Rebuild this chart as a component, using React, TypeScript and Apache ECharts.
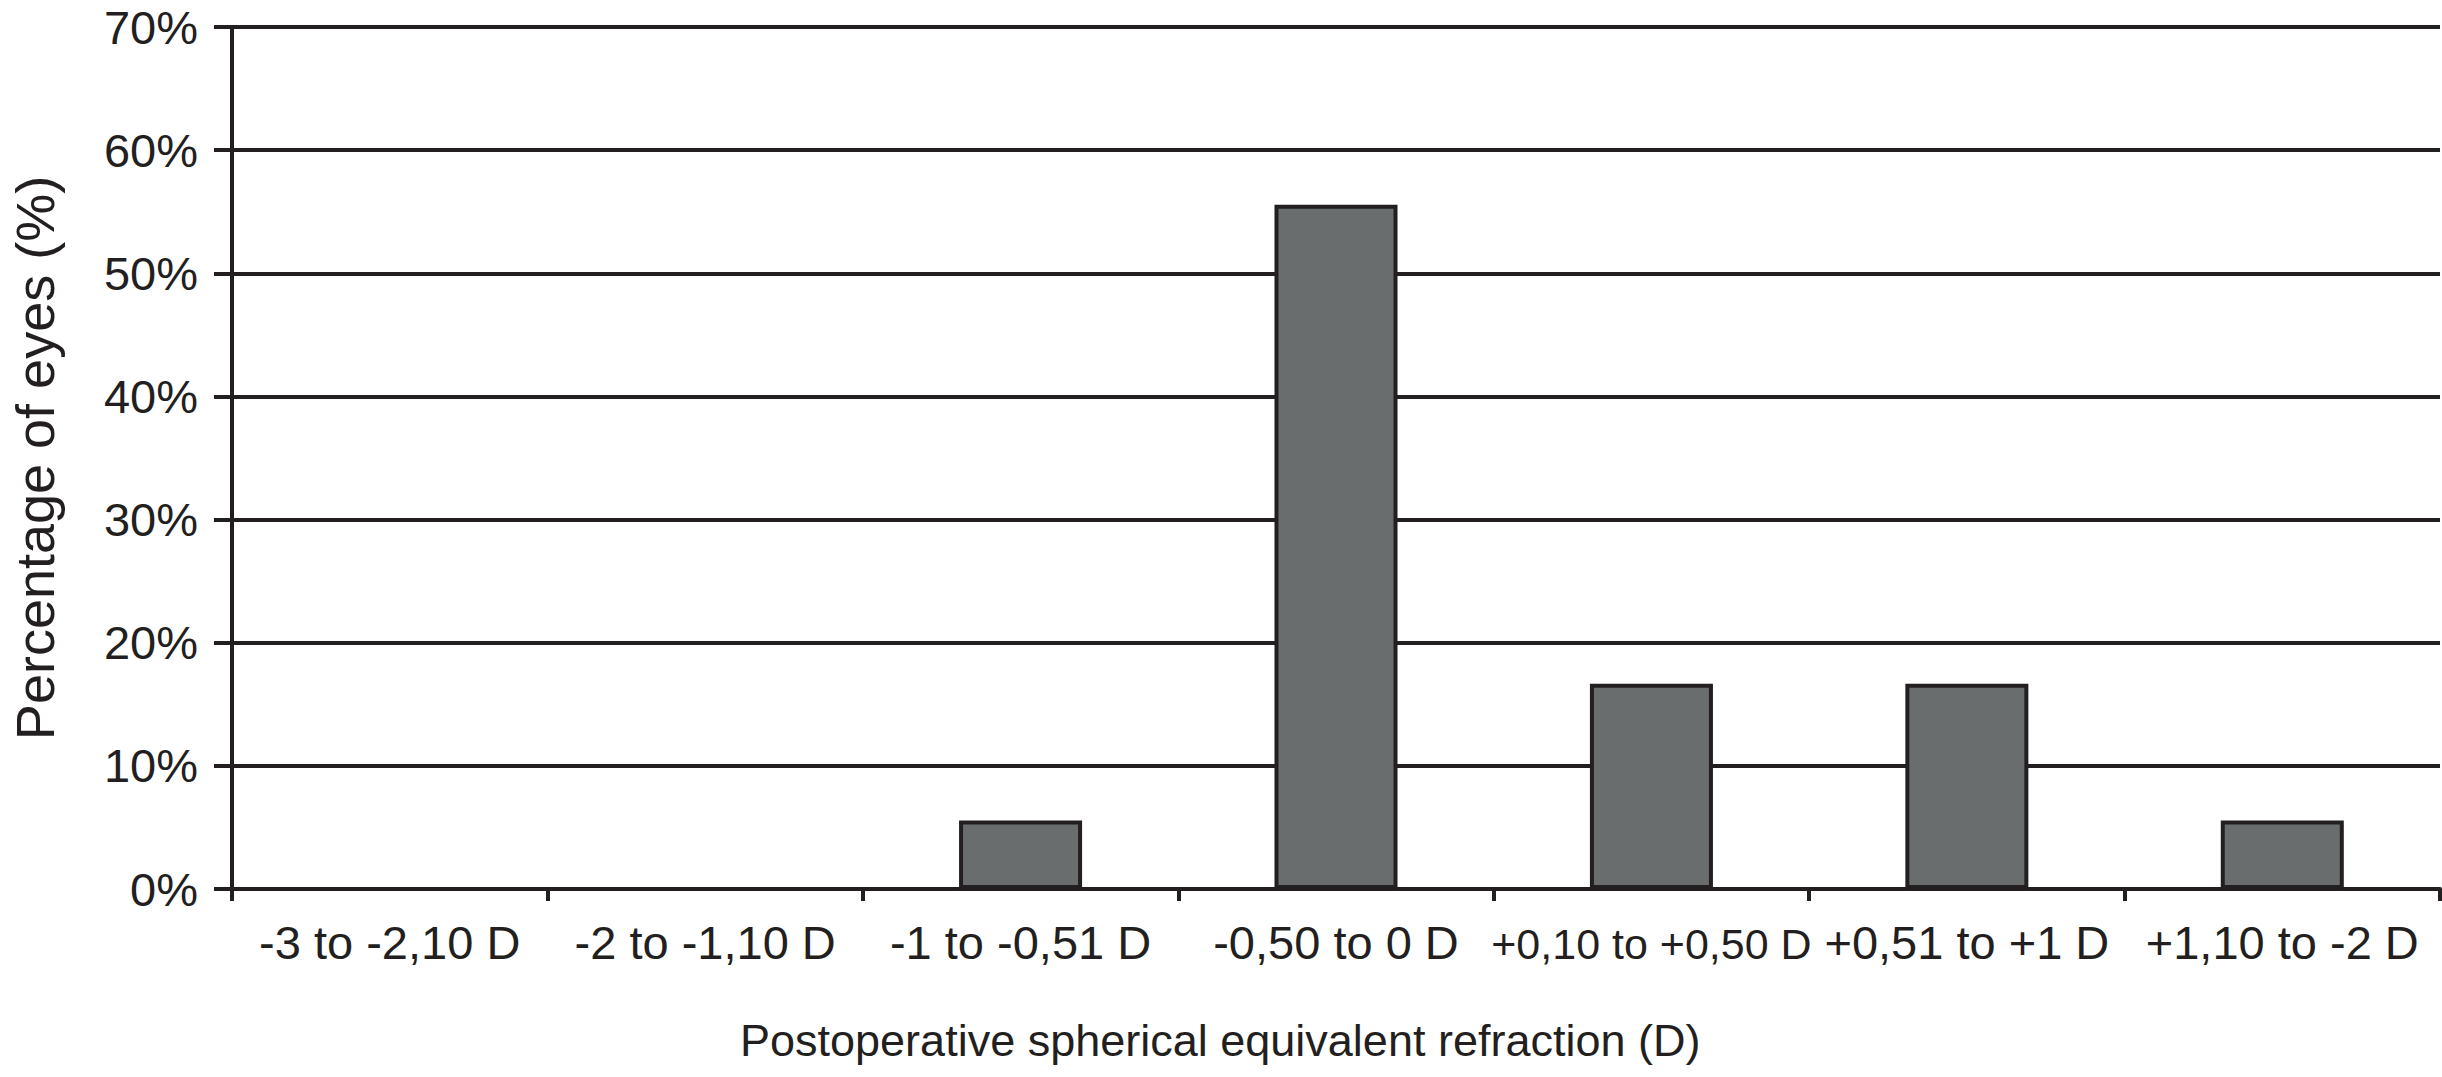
import React, { useEffect, useRef } from "react";
import * as echarts from "echarts";

const categories = [
  "-3 to -2,10 D",
  "-2 to -1,10 D",
  "-1 to -0,51 D",
  "-0,50 to 0 D",
  "+0,10 to +0,50 D",
  "+0,51 to +1 D",
  "+1,10 to -2 D",
];
const percentages = [0, 0, 5.56, 55.56, 16.67, 16.67, 5.56];
const yTicks = { min: 0, max: 70, interval: 10 };
const yTitle = "Percentage of eyes (%)";
const xTitle = "Postoperative spherical equivalent refraction (D)";

const INK = "#231f20";
const FONT = "Liberation Sans";

export default function App() {
  const ref = useRef<HTMLDivElement>(null);
  useEffect(() => {
    if (!ref.current) return;
    const chart = echarts.init(ref.current, null, { renderer: "svg" });
    chart.setOption({
      animation: false,
      backgroundColor: "#ffffff",
      grid: { left: 227, right: 2, top: 27, bottom: 188, containLabel: false },
      xAxis: {
        type: "category",
        data: categories,
        boundaryGap: true,
        axisLine: { show: true, lineStyle: { color: INK, width: 4 } },
        axisTick: { show: true, alignWithLabel: false, length: 12, lineStyle: { color: INK, width: 4 } },
        axisLabel: {
          interval: 0,
          margin: 30,
          color: INK,
          fontFamily: FONT,
          fontSize: 47,
          formatter: (v: string) => (v.length > 14 ? `{n|${v}}` : v),
          rich: {
            n: { fontFamily: FONT, fontSize: 43, color: INK, padding: [3, 0, 0, 0] },
          },
        },
        splitLine: { show: false },
      },
      yAxis: {
        type: "value",
        min: yTicks.min,
        max: yTicks.max,
        interval: yTicks.interval,
        name: yTitle,
        nameLocation: "middle",
        nameGap: 170,
        nameRotate: 90,
        nameTextStyle: { color: INK, fontFamily: FONT, fontSize: 54 },
        axisLine: { show: true, lineStyle: { color: INK, width: 4 } },
        axisTick: { show: true, length: 18, lineStyle: { color: INK, width: 4 } },
        axisLabel: {
          margin: 34,
          color: INK,
          fontFamily: FONT,
          fontSize: 47,
          formatter: "{value}%",
        },
        splitLine: { show: true, lineStyle: { color: INK, width: 4 } },
      },
      graphic: [
        {
          type: "text",
          left: 740,
          top: 1018,
          style: {
            text: xTitle,
            fill: INK,
            font: `45px "${FONT}"`,
          },
        },
      ],
      series: [
        {
          type: "bar",
          data: percentages,
          barWidth: "39%",
          itemStyle: { color: "#6a6d6e", borderColor: INK, borderWidth: 4 },
        },
      ],
    });
    return () => chart.dispose();
  }, []);
  return (
    <div
      ref={ref}
      style={{ position: "absolute", left: 0, top: 0, width: 2442, height: 1077 }}
    />
  );
}
